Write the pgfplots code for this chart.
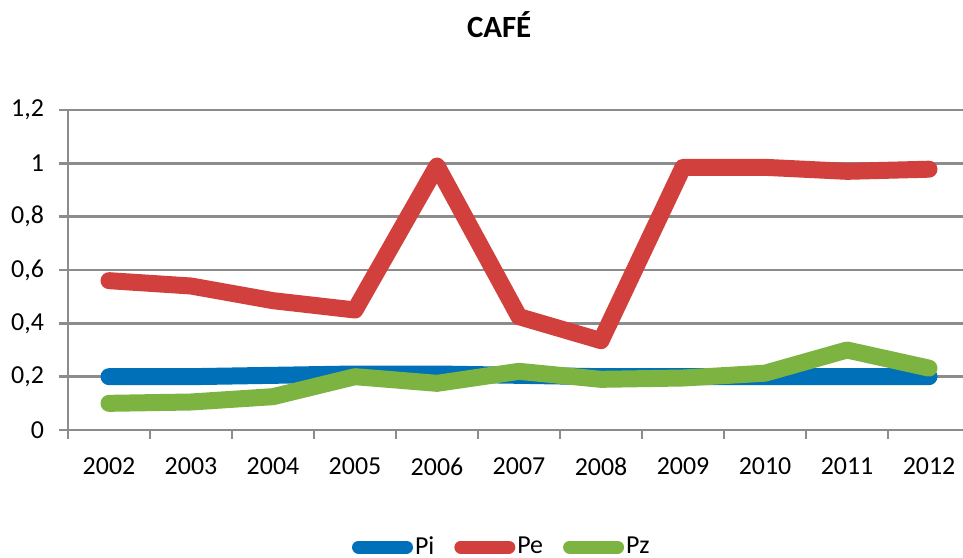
\documentclass[border=0pt]{standalone}
\usepackage{pgfplots}
\pgfplotsset{compat=1.18}
\usepackage{fontspec}
\setmainfont{Carlito}
\definecolor{cblue}{RGB}{0,112,184}
\definecolor{cred}{RGB}{210,64,62}
\definecolor{cgreen}{RGB}{125,179,64}
\definecolor{cgrid}{RGB}{140,140,140}
\begin{document}
\begin{tikzpicture}
\useasboundingbox (-34bp,-64bp) rectangle (447.5bp,215bp);
\begin{axis}[
  at={(0,0)}, anchor=south west,
  scale only axis, width=451bp, height=160bp,
  xmin=-0.5, xmax=10.5, ymin=0, ymax=1.2,
  axis x line*=bottom, axis y line*=left,
  axis line style={cgrid, line width=1.2bp},
  xtick={-0.5,0.5,...,10.5},
  x tick label as interval,
  xticklabels={2002,2003,2004,2005,2006,2007,2008,2009,2010,2011,2012},
  ytick={0,0.2,0.4,0.6,0.8,1,1.2},
  yticklabel style={/pgf/number format/use comma, /pgf/number format/fixed,
    /pgf/number format/precision=1, /pgf/number format/assume math mode=true, xshift=-4bp},
  tick align=outside, major tick length=4.5bp,
  tick style={cgrid, line width=1.2bp},
  ymajorgrids, grid style={cgrid, line width=1.2bp},
  tick label style={font=\fontsize{13}{15}\selectfont, text=black},
  xticklabel style={yshift=-6bp},
  title={\bfseries CAFÉ},
  title style={at={(0.478,1.228)}, anchor=center, font=\fontsize{15.5}{18}\selectfont},
  legend columns=-1,
  legend style={at={(0.481,-0.366)}, anchor=center, draw=none, fill=none,
    font=\fontsize{13}{15}\selectfont, nodes={inner xsep=1bp},
    /tikz/every even column/.append style={column sep=9bp}},
  legend image code/.code={\draw[#1, line width=6.5bp, line cap=round] (3.25bp,0bp) -- (27.25bp,0bp);},
  every axis plot/.append style={line width=8.5bp, line cap=round, line join=round},
  clip=false,
]
\addplot[cblue] coordinates {(0,0.20) (1,0.20) (2,0.205) (3,0.21) (4,0.21) (5,0.205) (6,0.20) (7,0.20) (8,0.20) (9,0.20) (10,0.20)};
\addlegendentry{Pi}
\addplot[cred] coordinates {(0,0.56) (1,0.54) (2,0.485) (3,0.45) (4,0.99) (5,0.425) (6,0.335) (7,0.985) (8,0.985) (9,0.97) (10,0.978)};
\addlegendentry{Pe}
\addplot[cgreen] coordinates {(0,0.10) (1,0.105) (2,0.125) (3,0.20) (4,0.175) (5,0.22) (6,0.19) (7,0.195) (8,0.213) (9,0.30) (10,0.232)};
\addlegendentry{Pz}
\end{axis}
\end{tikzpicture}
\end{document}
